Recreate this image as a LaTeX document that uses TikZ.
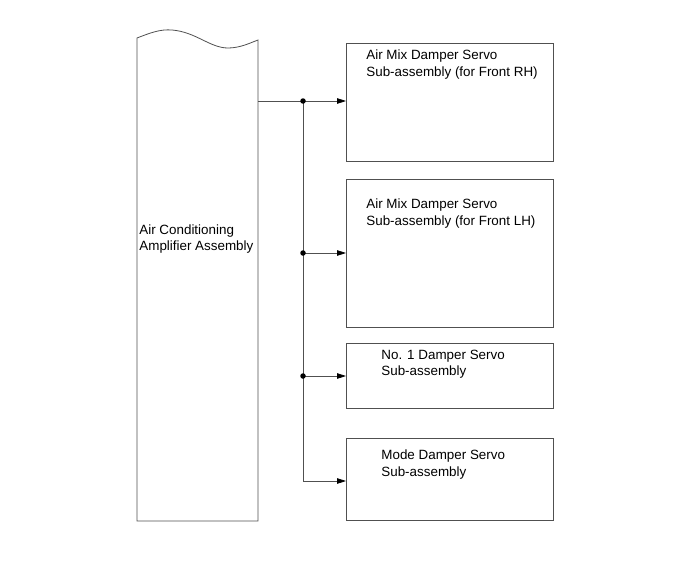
\documentclass[tikz,border=0pt]{standalone}
\usepackage{fontspec}
\setmainfont{Liberation Sans}
\usetikzlibrary{arrows.meta}
\definecolor{ln}{HTML}{505050}
\begin{document}
\begin{tikzpicture}[x=1pt,y=-1pt,
  line width=0.8pt,
  servobox/.style={draw=ln, minimum width=207pt, anchor=north west, inner sep=0pt},
  lbl/.style={anchor=base west, inner sep=0pt, font=\fontsize{13.4pt}{16pt}\selectfont},
  feed/.style={draw=ln, -{Triangle[length=9pt,width=5.5pt,color=black,fill=black]}},
  bus/.style={draw=ln},
  jdot/.style={circle, fill=black, inner sep=0pt, minimum size=5.5pt}]
\useasboundingbox (0,0) rectangle (690,562);
% left amplifier box with wavy top
\draw[ln] (137,521) -- (137,38)
  .. controls (150,33) and (160,29) .. (172,30)
  .. controls (196,32) and (210,48) .. (228,48)
  .. controls (240,48) and (250,43) .. (258,40)
  -- (258,521) -- cycle;
\node[lbl] (amp1) at (139,234) {Air Conditioning};
\node[lbl] (amp2) at (139,250.5) {Amplifier Assembly};
\coordinate (out) at (258,101);
% servo boxes
\node[servobox, minimum height=118pt] (b1) at (346,43) {};
\node[servobox, minimum height=148pt] (b2) at (346,179) {};
\node[servobox, minimum height=65pt] (b3) at (346,343) {};
\node[servobox, minimum height=82pt] (b4) at (346,438) {};
\node[lbl] (t1a) at (366,59) {Air Mix Damper Servo};
\node[lbl] (t1b) at (366,76) {Sub-assembly (for Front RH)};
\node[lbl] (t2a) at (366,208) {Air Mix Damper Servo};
\node[lbl] (t2b) at (366,225) {Sub-assembly (for Front LH)};
\node[lbl] (t3a) at (381,359) {No. 1 Damper Servo};
\node[lbl] (t3b) at (381,375.5) {Sub-assembly};
\node[lbl] (t4a) at (381,459) {Mode Damper Servo};
\node[lbl] (t4b) at (381,476) {Sub-assembly};
% junctions
\coordinate (j1) at (303,101);
\coordinate (j2) at (303,253);
\coordinate (j3) at (303,376);
\coordinate (j4) at (303,481);
\draw[bus] (out) -- (j1) -- (j4);
\draw[feed] (j1) -- (j1 -| b1.west);
\draw[feed] (j2) -- (j2 -| b2.west);
\draw[feed] (j3) -- (j3 -| b3.west);
\draw[feed] (j4) -- (j4 -| b4.west);
\node[jdot] (d1) at (j1) {};
\node[jdot] (d2) at (j2) {};
\node[jdot] (d3) at (j3) {};
\end{tikzpicture}
\end{document}
